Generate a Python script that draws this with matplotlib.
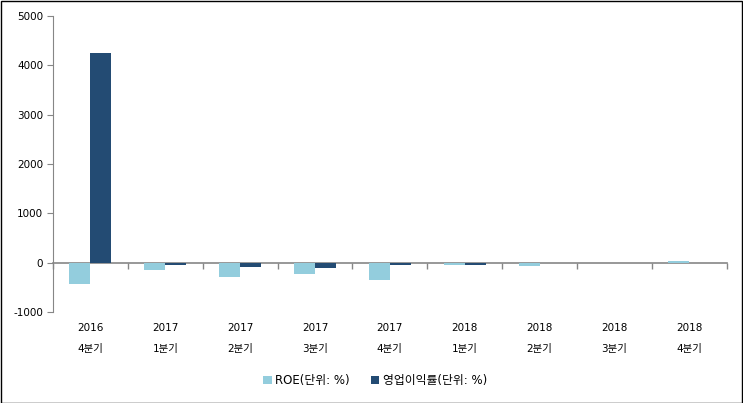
import numpy as np
import matplotlib.pyplot as plt
from matplotlib.patches import Rectangle

plt.rcParams['font.family'] = ['DejaVu Sans', 'Noto Sans CJK KR']
plt.rcParams['axes.unicode_minus'] = False

# data
years = ["2016", "2017", "2017", "2017", "2017", "2018", "2018", "2018", "2018"]
quarters = ["4분기", "1분기", "2분기", "3분기", "4분기", "1분기", "2분기", "3분기", "4분기"]
roe = [-440, -140, -300, -240, -360, -50, -75, 0, 25]
op_margin = [4260, -55, -80, -100, -55, -55, -5, 0, 0]

c_roe = "#93CDDD"
c_op = "#234B73"
grey = "#868686"

fig = plt.figure(figsize=(7.43, 4.03), dpi=100)
ax = fig.add_axes([0.0713, 0.226, 0.9067, 0.734])

x = np.arange(len(years))
w = 0.28
ax.bar(x - w / 2, roe, width=w, color=c_roe, label="ROE(단위: %)")
ax.bar(x + w / 2, op_margin, width=w, color=c_op, label="영업이익률(단위: %)")

ax.set_xlim(-0.5, len(years) - 0.5)
ax.set_ylim(-1000, 5000)
ax.set_yticks(range(-1000, 5001, 1000))
ax.tick_params(axis="y", labelsize=7.5, length=4, color=grey, pad=3)

# category labels at the bottom, no ticks
ax.set_xticks(x)
ax.set_xticklabels([f"{y}\n{q}" for y, q in zip(years, quarters)],
                   fontsize=7.5, linespacing=2.4)
ax.tick_params(axis="x", length=0, pad=8)

for s in ["top", "right", "bottom"]:
    ax.spines[s].set_visible(False)
ax.spines["left"].set_color(grey)

# zero axis line with boundary ticks
zero_pos = (0 - (-1000)) / 6000
sec = ax.secondary_xaxis(zero_pos)
sec.set_xticks(np.arange(-0.5, len(years), 1.0))
sec.set_xticklabels([])
sec.tick_params(axis="x", length=4, color=grey, width=1)
sec.spines["bottom"].set_color(grey)
sec.spines["bottom"].set_linewidth(1.2)

leg = fig.legend(loc="center", bbox_to_anchor=(0.505, 0.055), ncol=2, frameon=False,
                 fontsize=8.5, handlelength=0.7, handleheight=0.7,
                 handletextpad=0.3, columnspacing=1.8)

fig.patches.append(Rectangle((0.001, 0.001), 0.997, 0.996, transform=fig.transFigure,
                             fill=False, edgecolor="black", linewidth=1))

fig.savefig("out.png", dpi=100)
